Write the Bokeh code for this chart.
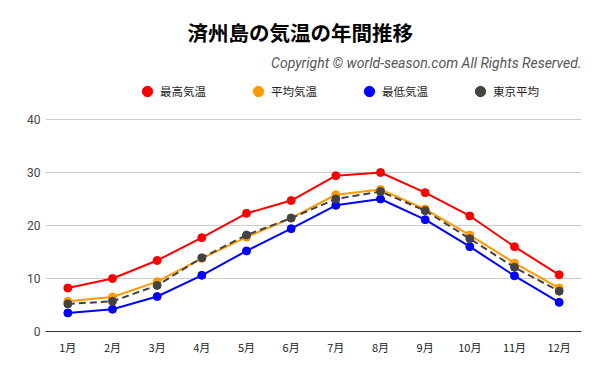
from bokeh.plotting import figure
from bokeh.models import ColumnDataSource, Range1d, Legend, LegendItem, Title, FixedTicker
from bokeh.embed import file_html
from bokeh.resources import INLINE

months = ["1月", "2月", "3月", "4月", "5月", "6月", "7月", "8月", "9月", "10月", "11月", "12月"]
max_temp = [8.2, 10.0, 13.4, 17.7, 22.3, 24.7, 29.4, 30.0, 26.2, 21.8, 16.0, 10.7]
avg_temp = [5.7, 6.5, 9.4, 13.8, 17.8, 21.4, 25.8, 26.8, 23.1, 18.2, 12.9, 8.2]
min_temp = [3.5, 4.2, 6.6, 10.6, 15.2, 19.4, 23.8, 25.0, 21.1, 16.0, 10.5, 5.5]
tokyo_avg = [5.2, 5.7, 8.7, 13.9, 18.2, 21.4, 25.0, 26.4, 22.8, 17.5, 12.1, 7.6]
series_names = ["最高気温", "平均気温", "最低気温", "東京平均"]
y_ticks = [0, 10, 20, 30, 40]

colors = ["#FF0000", "#FF9900", "#0000FF", "#434343"]
dashes = ["solid", "solid", "solid", "7 4"]

src = ColumnDataSource(dict(m=months, a=max_temp, b=avg_temp, c=min_temp, d=tokyo_avg))

# frame spans 75..331 px; 40 sits at 119 px (header area kept inside the frame for the legend)
p = figure(width=600, height=371, x_range=months, y_range=Range1d(0, 48.3),
           output_backend="svg", toolbar_location=None,
           min_border_left=45, min_border_right=19, min_border_bottom=40, min_border_top=75)
p.outline_line_color = None
p.background_fill_color = "white"

items = []
for col, name, c, d in zip(["a", "b", "c", "d"], series_names, colors, dashes):
    p.line("m", col, source=src, line_color=c, line_width=2, line_dash=d)
    r = p.scatter("m", col, source=src, size=8, fill_color=c, line_color=c)
    items.append(LegendItem(label=name, renderers=[r]))

p.xgrid.grid_line_color = None
p.ygrid.grid_line_color = "#cccccc"
p.yaxis.ticker = FixedTicker(ticks=y_ticks)
p.yaxis.axis_line_color = None
p.yaxis.major_tick_line_color = None
p.yaxis.minor_tick_line_color = None
p.yaxis.major_tick_out = 0
p.yaxis.major_tick_in = 0
p.yaxis.minor_tick_out = 0
p.yaxis.major_label_text_font = "Roboto"
p.yaxis.major_label_text_font_size = "12px"
p.yaxis.major_label_text_color = "#444444"
p.yaxis.major_label_standoff = 5

p.xaxis.axis_line_color = "#333333"
p.xaxis.major_tick_line_color = None
p.xaxis.minor_tick_line_color = None
p.xaxis.major_tick_out = 0
p.xaxis.major_tick_in = 0
p.xaxis.minor_tick_out = 0
p.xaxis.major_label_text_font = "Noto Sans CJK JP"
p.xaxis.major_label_text_font_size = "11px"
p.xaxis.major_label_text_color = "#222222"
p.xaxis.major_label_standoff = 7

legend = Legend(items=items, orientation="horizontal", location=(89, 227),
                label_text_font="Noto Sans CJK JP", label_text_font_size="11.5px",
                label_text_color="#222222", glyph_width=26, glyph_height=26,
                label_standoff=0, spacing=39, border_line_color=None,
                background_fill_alpha=0, padding=0, margin=0)
p.add_layout(legend)

copy_t = Title(text="Copyright © world-season.com All Rights Reserved.", align="right",
               text_font="Roboto", text_font_style="italic", text_font_size="14px",
               text_color="#555555", offset=0)
p.add_layout(copy_t, "above")

main_t = Title(text="済州島の気温の年間推移", align="left",
               text_font="Noto Sans CJK JP", text_font_style="bold", text_font_size="20.5px",
               text_color="#000000", standoff=2, offset=142)
p.add_layout(main_t, "above")

open("out.html", "w").write(file_html(p, INLINE))
